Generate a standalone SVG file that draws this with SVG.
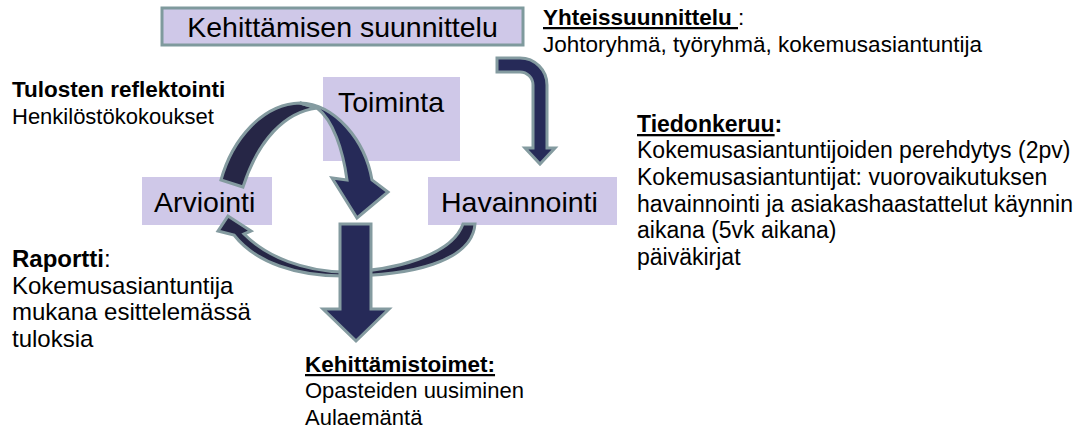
<svg xmlns="http://www.w3.org/2000/svg" width="1076" height="432" viewBox="0 0 1076 432">
<style>
.box{fill:#cfc8e8}
.lbl{font-family:"Liberation Sans",Arial,sans-serif;fill:#000}
.big{font-size:28.5px}
.arr{stroke:#849ba0;stroke-width:3;stroke-linejoin:miter}
.nv{fill:#262a58}
.nd{fill:#262646}
.t22{font-size:22px}
.t23{font-size:23px}
.t24{font-size:24px}
.b{font-weight:bold}
.u{text-decoration:underline}
</style>
<rect width="1076" height="432" fill="#fff"/>
<g id="node-suunnittelu">
<rect class="box" x="162" y="8" width="361" height="37" stroke="#7f9a9d" stroke-width="3"/>
<text class="lbl big" x="342.5" y="37" text-anchor="middle">Kehittämisen suunnittelu</text>
</g>
<g id="node-toiminta">
<rect class="box" x="323" y="77" width="137" height="84"/>
<text class="lbl big" x="338" y="112">Toiminta</text>
</g>
<g id="node-arviointi">
<rect class="box" x="142" y="177" width="130" height="48"/>
<text class="lbl big" x="154" y="212">Arviointi</text>
</g>
<g id="node-havainnointi">
<rect class="box" x="428" y="177" width="189" height="48"/>
<text class="lbl big" x="441" y="212">Havainnointi</text>
</g>
<g id="connectors">
<path class="arr nv" d="M497,58 L520,58 A27,27 0 0 1 547,85 L547,148 L555,148 L540,164 L525,148 L533,148 L533,85 A13,13 0 0 0 520,72 L497,72 Z"/>
<path class="arr nd" d="M475,224 C472,262 410,276 343,276 C297,276 256,263 234,235 L218,231 L228,216 L251,231 L244,234 C268,258 305,271 343,272 C395,271 452,255 463,224 Z"/>
<path class="arr nd" d="M221,180 C232,140 262,104 300,103 L317,108 C285,112 258,140 243,187 Z"/>
<path class="arr nv" d="M300,103 C335,104 365,140 372,180 L388,192 L357,218 L332,178 L347,180 C343,150 333,120 317,108 Z"/>
<path class="arr nv" d="M340,224 L371,224 L371,309 L389,309 L356,341 L323,309 L340,309 Z"/>
</g>
<g id="note-yhteissuunnittelu">
<text class="lbl" style="font-size:22.5px" x="543" y="25"><tspan class="b u">Yhteissuunnittelu </tspan>:</text>
<text class="lbl" style="font-size:22.5px" x="543" y="52">Johtoryhmä, työryhmä, kokemusasiantuntija</text>
</g>
<g id="note-reflektointi">
<text class="lbl b" style="font-size:22.5px" x="12" y="97">Tulosten reflektointi</text>
<text class="lbl t22" x="12" y="124">Henkilöstökokoukset</text>
</g>
<g id="note-raportti">
<text class="lbl t24" x="12" y="267"><tspan class="b">Raportti</tspan>:</text>
<text class="lbl t24" x="12" y="294">Kokemusasiantuntija</text>
<text class="lbl t24" x="12" y="320">mukana esittelemässä</text>
<text class="lbl t24" x="12" y="347">tuloksia</text>
</g>
<g id="note-tiedonkeruu">
<text class="lbl t23" x="637" y="132"><tspan class="b u">Tiedonkeruu</tspan><tspan class="b">:</tspan></text>
<text class="lbl t23" x="637" y="158">Kokemusasiantuntijoiden perehdytys (2pv)</text>
<text class="lbl t23" x="637" y="185">Kokemusasiantuntijat: vuorovaikutuksen</text>
<text class="lbl t23" x="637" y="212">havainnointi ja asiakashaastattelut käynnin</text>
<text class="lbl t23" x="637" y="238">aikana (5vk aikana)</text>
<text class="lbl t23" x="637" y="265">päiväkirjat</text>
</g>
<g id="note-kehittamistoimet">
<text class="lbl" style="font-size:22.5px" x="305" y="372"><tspan class="b u">Kehittämistoimet:</tspan></text>
<text class="lbl t22" x="305" y="398">Opasteiden uusiminen</text>
<text class="lbl t22" x="305" y="425">Aulaemäntä</text>
</g>
</svg>
